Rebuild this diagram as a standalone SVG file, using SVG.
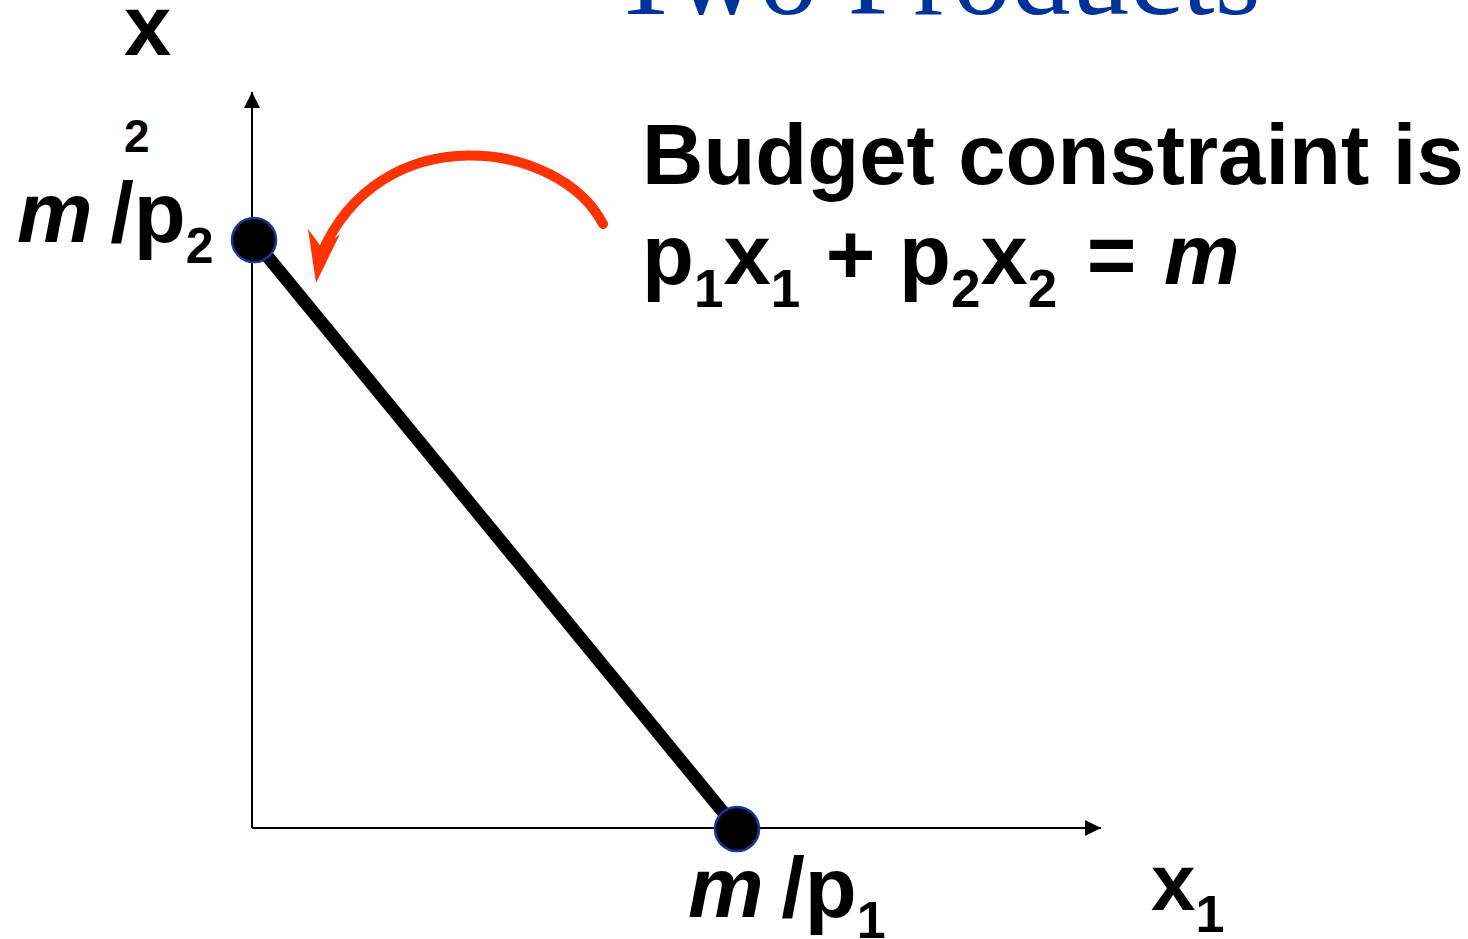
<svg xmlns="http://www.w3.org/2000/svg" width="1468" height="939" viewBox="0 0 1468 939">
<defs>
<style>
.t{font-family:"Liberation Sans",Arial,sans-serif;font-weight:bold;fill:#000}
.it{font-style:italic}
.title{font-family:"Liberation Serif","Times New Roman",serif;fill:#003399}
.axis{stroke:#000;stroke-width:2;fill:none}
.dot{fill:#000;stroke:#12389a;stroke-width:2.5}
</style>
<marker id="ah" viewBox="0 0 16 16" refX="16" refY="8" markerWidth="16" markerHeight="16" markerUnits="userSpaceOnUse" orient="auto"><path d="M0,0 L16,8 L0,16 z" fill="#000"/></marker>
</defs>
<rect width="1468" height="939" fill="#fff"/>
<text class="title" x="610" y="14" font-size="118">Two Products</text>
<g id="connectors">
<line class="axis" x1="252" y1="828" x2="252" y2="92" marker-end="url(#ah)"/>
<line class="axis" x1="252" y1="828" x2="1101" y2="828" marker-end="url(#ah)"/>
<line x1="254" y1="240" x2="737" y2="829" stroke="#000" stroke-width="13"/>
<path d="M603,224 C560,140 380,115 321,255" fill="none" stroke="#ff3300" stroke-width="10" stroke-linecap="round"/>
<polygon points="316,283 308,229 322,248 340,234" fill="#ff3300"/>
</g>
<g id="y-label">
<text class="t" x="124" y="55" font-size="85">x</text>
<text class="t" x="124" y="152" font-size="46">2</text>
</g>
<g id="node-y-intercept">
<circle class="dot" cx="254" cy="240" r="22"/>
<text class="t" x="17" y="242" font-size="85"><tspan class="it">m</tspan><tspan dx="-6"> /p</tspan><tspan font-size="50" dy="21">2</tspan></text>
</g>
<g id="node-x-intercept">
<circle class="dot" cx="737" cy="829" r="22"/>
<text class="t" x="688" y="917" font-size="85"><tspan class="it">m</tspan><tspan dx="-6"> /p</tspan><tspan font-size="52" dy="21">1</tspan></text>
</g>
<g id="x-label">
<text class="t" x="1151" y="910" font-size="80">x<tspan font-size="52" dy="22">1</tspan></text>
</g>
<g id="equation">
<text class="t" x="642" y="184" font-size="85">Budget constraint is</text>
<text class="t" x="642" y="284" font-size="85">p<tspan font-size="53" dy="23">1</tspan><tspan dy="-23">x</tspan><tspan font-size="53" dy="23">1</tspan><tspan dy="-23" dx="2"> + p</tspan><tspan font-size="53" dy="23">2</tspan><tspan dy="-23">x</tspan><tspan font-size="53" dy="23">2</tspan><tspan dy="-23" dx="6"> = </tspan><tspan class="it" dx="4">m</tspan></text>
</g>
</svg>
